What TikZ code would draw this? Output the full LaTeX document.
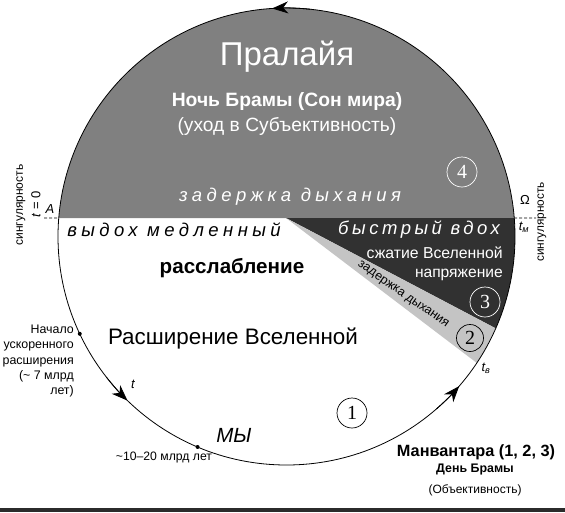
\documentclass[tikz,border=0pt]{standalone}
\usepackage{fontspec}
\setmainfont{Liberation Sans}
\newfontfamily\serifdig{Liberation Serif}
\newfontfamily\spit[LetterSpace=24]{Liberation Sans}
\newfontfamily\spitb[LetterSpace=19]{Liberation Sans}
\usetikzlibrary{arrows.meta}
\definecolor{topgray}{HTML}{808080}
\definecolor{darkw}{HTML}{313131}
\definecolor{lightw}{HTML}{C4C4C4}
\definecolor{barc}{HTML}{2B2B2B}
\tikzset{
  lbl/.style={inner sep=0pt, font=#1},
  numc/.style={circle, draw=#1, text=#1, line width=0.7pt, minimum size=30pt, inner sep=0pt, font=\serifdig\fontsize{20}{20}\selectfont},
  flow/.style={line width=0.8pt, -{Stealth[length=16pt, width=12pt, inset=5pt]}},
  dot/.style={circle, fill=black, inner sep=0pt, minimum size=4pt},
}
\begin{document}
\begin{tikzpicture}[x=1pt, y=-1pt]
\useasboundingbox (0,0) rectangle (565,512);
\fill[white] (0,0) rectangle (565,512);
\fill[barc] (0,508) rectangle (565,512);
\def\R{228.5}
\coordinate (C) at (286.5,236.5);
\coordinate (apex) at (286,218);
\coordinate (L) at ([shift={(C)}]184.64:\R);
\coordinate (Rt) at ([shift={(C)}]355.36:\R);
% regions
\fill[topgray] (L) arc[start angle=184.64, end angle=355.36, radius=\R] -- cycle;
\fill[darkw] (apex) -- (Rt) arc[start angle=-4.64, end angle=23.7, radius=\R] -- cycle;
\fill[lightw] (apex) -- ([shift={(C)}]23.7:\R) arc[start angle=23.7, end angle=33.6, radius=\R] -- cycle;
% circle outline
\draw[line width=0.8pt] (C) circle[radius=\R];
% arrows
\draw[flow] ([shift={(C)}]276:\R) arc[start angle=276, end angle=266.4, radius=\R];
\draw[flow] ([shift={(C)}]142:\R) arc[start angle=142, end angle=134.1, radius=\R];
\draw[flow] ([shift={(C)}]49:\R) arc[start angle=49, end angle=40.9, radius=\R];
% dashed line
\coordinate (dl) at (44,218);
\coordinate (dr) at (536,218);
\draw[dashed, dash pattern=on 3pt off 2pt, line width=0.7pt] (dl) -- (L);
\draw[dashed, dash pattern=on 3pt off 2pt, line width=0.7pt] (Rt) -- (dr);
% dots
\node[dot] (d1) at ([shift={(C)}]154.8:\R) {};
\node[dot] (d2) at ([shift={(C)}]112.9:\R) {};
% top texts
\node[lbl=\fontsize{33}{33}\selectfont, text=white] (pr) at (287,57) {Пралайя};
\node[lbl=\bfseries\fontsize{19.3}{19.3}\selectfont, text=white] (nb) at (287,102) {Ночь Брамы (Сон мира)};
\node[lbl=\fontsize{19.2}{19.2}\selectfont, text=white] (uh) at (287,126) {(уход в Субъективность)};
\node[lbl=\spit\itshape\fontsize{18.5}{18.5}\selectfont, text=white] (zd) at (290,197) {задержка дыхания};
\node[numc=white] (n4) at (462,172) {4};
% below line
\node[lbl=\spit\itshape\fontsize{18.5}{18.5}\selectfont, text=black] (vm) at (174,230) {выдох медленный};
\node[lbl=\spitb\itshape\fontsize{18.5}{18.5}\selectfont, text=white] (bv) at (419,230) {быстрый вдох};
\node[lbl=\fontsize{15.8}{15.8}\selectfont, text=white, anchor=east] (sv) at (503,253) {сжатие Вселенной};
\node[lbl=\fontsize{15.6}{15.6}\selectfont, text=white, anchor=east] (np) at (503,275) {напряжение};
\node[lbl=\fontsize{12.5}{12.5}\selectfont, text=black, rotate=-35] (zd2) at (403,295) {задержка дыхания};
\node[numc=white] (n3) at (485,302) {3};
\node[numc=black, minimum size=27pt] (n2) at (470,338) {2};
\node[numc=black] (n1) at (352,413) {1};
\node[lbl=\bfseries\fontsize{20.6}{20.6}\selectfont] (rs) at (232,268) {расслабление};
\node[lbl=\fontsize{22.4}{22.4}\selectfont] (rv) at (233,339) {Расширение Вселенной};
\node[lbl=\fontsize{12.4}{15.2}\selectfont, align=right, anchor=north east] (nu) at (74,325) {Начало\\ускоренного\\расширения\\(\textasciitilde{} 7 млрд\\лет)};
\node[lbl=\fontsize{12.2}{12.2}\selectfont] (ml) at (164,457) {\textasciitilde10–20 млрд лет};
\node[lbl=\itshape\fontsize{20.5}{20.5}\selectfont] (my) at (234,435) {МЫ};
\node[lbl=\itshape\fontsize{13}{13}\selectfont] (tt) at (133,384) {t};
\node[lbl=\itshape\fontsize{13}{13}\selectfont] (tv) at (486,368) {t\textsubscript{в}};
% bottom right
\node[lbl=\bfseries\fontsize{16.3}{16.3}\selectfont] (mv) at (476,452) {Манвантара (1, 2, 3)};
\node[lbl=\bfseries\fontsize{12.4}{12.4}\selectfont] (db) at (475,470) {День Брамы};
\node[lbl=\fontsize{12}{12}\selectfont] (ob) at (475,490) {(Объективность)};
% singularities
\node[lbl=\fontsize{12}{12}\selectfont, rotate=90] (sl) at (21,205) {сингулярность};
\node[lbl=\fontsize{13}{13}\selectfont, rotate=90] (t0) at (36,204) {\textit{t} = 0};
\node[lbl=\itshape\fontsize{13}{13}\selectfont] (A) at (50,209) {A};
\node[lbl=\fontsize{11.8}{11.8}\selectfont, rotate=90] (sr) at (542,222) {сингулярность};
\node[lbl=\fontsize{13}{13}\selectfont] (om) at (525,200) {Ω};
\node[lbl=\itshape\fontsize{13}{13}\selectfont] (tm) at (524,227) {t\textsubscript{м}};
\end{tikzpicture}
\end{document}
